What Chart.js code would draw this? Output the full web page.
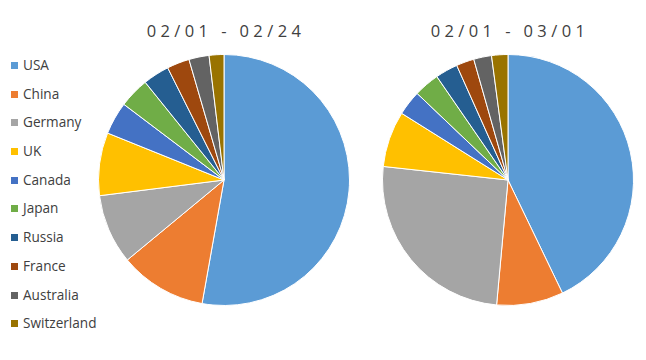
<!DOCTYPE html>
<html>
<head>
    <meta charset="UTF-8">
    <title>Pie</title>
    <script src="https://cdn.jsdelivr.net/npm/chart.js"></script>
    <style>
        body { margin: 0; width: 646px; height: 360px; background: #fff; position: relative; overflow: hidden; font-family: "Open Sans", sans-serif; color: #404040; }
        .title { position: absolute; top: 19px; width: 260px; text-align: center; font-size: 16.5px; letter-spacing: 4.4px; }
        .pie { position: absolute; top: 54px; width: 252px; height: 252px; }
        #legend { position: absolute; left: 11px; top: 56px; margin: 0; padding: 0; list-style: none; font-size: 13.6px; }
        #legend li { height: 28.7px; line-height: 18px; }
        #legend span { display: inline-block; width: 7px; height: 7px; margin-right: 5px; vertical-align: 1px; }
    </style>
</head>
<body>
    <div class="title" style="left: 96px;">02/01 - 02/24</div>
    <div class="title" style="left: 380px;">02/01 - 03/01</div>
    <ul id="legend"></ul>
    <div class="pie" style="left: 98px;"><canvas id="pie1"></canvas></div>
    <div class="pie" style="left: 382px;"><canvas id="pie2"></canvas></div>

    <script>
    const countries = ['USA', 'China', 'Germany', 'UK', 'Canada', 'Japan', 'Russia', 'France', 'Australia', 'Switzerland'];
    const colors = ['#5B9BD5', '#ED7D31', '#A5A5A5', '#FFC000', '#4472C4', '#70AD47', '#255E91', '#9E480E', '#636363', '#997300'];
    // share in %
    const feb24 = [52.8, 11.2, 9.0, 8.1, 4.2, 3.9, 3.4, 2.9, 2.6, 1.9];
    const mar01 = [42.9, 8.6, 25.3, 7.2, 3.2, 3.3, 2.9, 2.3, 2.3, 2.1];

    const legend = document.getElementById('legend');
    countries.forEach((c, i) => {
        const li = document.createElement('li');
        li.innerHTML = '<span style="background:' + colors[i] + '"></span>' + c;
        legend.appendChild(li);
    });

    function makePie(id, values) {
        return new Chart(document.getElementById(id), {
            type: 'pie',
            data: {
                labels: countries,
                datasets: [{
                    data: values,
                    backgroundColor: colors,
                    borderColor: '#fff',
                    borderWidth: 1
                }]
            },
            options: {
                responsive: true,
                maintainAspectRatio: false,
                animation: false,
                layout: { padding: 0 },
                plugins: { legend: { display: false }, tooltip: { enabled: false } }
            }
        });
    }
    makePie('pie1', feb24);
    makePie('pie2', mar01);
    </script>
</body>
</html>
